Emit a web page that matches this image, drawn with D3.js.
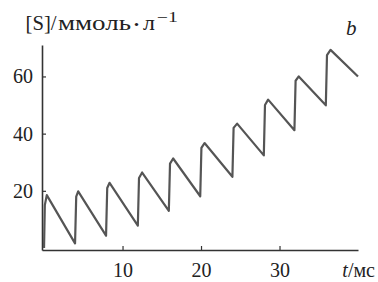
<!DOCTYPE html>
<meta charset="utf-8">
<script src="https://d3js.org/d3.v7.min.js"></script>
<style>
  body { margin: 0; background: #fff; }
</style>
<div id="my_dataviz"></div>
<script>

// time (ms) and substrate concentration [S] (mmol/l)
var tVals = [0, 0.1, 0.35, 3.95, 4.1, 4.35, 7.9, 8.05, 8.35, 11.95, 12.1, 12.5, 15.9, 16.05, 16.45, 19.9, 20.05, 20.45, 24.0, 24.15, 24.6, 28.0, 28.15, 28.55, 31.9, 32.05, 32.45, 35.9, 36.05, 36.5, 40.0];
var sVals = [0, 15, 18.5, 1.6, 18, 19.8, 4.3, 21, 22.8, 7.8, 24.5, 26.4, 13.0, 29.5, 31.3, 18.1, 35, 36.7, 24.9, 42, 43.5, 32.4, 50, 51.9, 41.2, 58.5, 60.0, 49.9, 67.5, 69.3, 60.0];

var xTicks = [10, 20, 30];
var yTicks = [20, 40, 60];

var W = 378, H = 282;
var serif = "'Liberation Serif', 'Times New Roman', serif";

var svg = d3.select("#my_dataviz")
  .append("svg")
    .attr("width", W)
    .attr("height", H);

var x = d3.scaleLinear()
  .domain([-0.26, 40])
  .range([42, 358]);

var y = d3.scaleLinear()
  .domain([-0.7, 71])
  .range([250, 45]);

// X axis
var gx = svg.append("g")
  .attr("transform", "translate(0," + y.range()[0] + ")")
  .call(d3.axisBottom(x).tickValues(xTicks).tickSizeInner(-4).tickSizeOuter(0).tickPadding(13));

// Y axis
var gy = svg.append("g")
  .attr("transform", "translate(" + x.range()[0] + ",0)")
  .call(d3.axisLeft(y).tickValues(yTicks).tickSizeInner(-4).tickSizeOuter(0).tickPadding(9));

[gx, gy].forEach(function(g) {
  g.select(".domain").attr("stroke", "#333").attr("stroke-width", 1.6);
  g.selectAll(".tick line").attr("stroke", "#333").attr("stroke-width", 1.2);
  g.selectAll(".tick text")
    .style("font-family", serif)
    .style("font-size", "20px")
    .attr("fill", "#222");
});

// sawtooth line
var line = d3.line()
  .x(function(d, i) { return x(tVals[i]); })
  .y(function(d) { return y(d); });

svg.append("path")
  .datum(sVals)
  .attr("fill", "none")
  .attr("stroke", "#555")
  .attr("stroke-width", 2.2)
  .attr("stroke-linejoin", "round")
  .attr("d", line);

// helper for label pieces
function label(txt, px, py, size, len) {
  var t = svg.append("text")
    .attr("x", px)
    .attr("y", py)
    .attr("fill", "#222")
    .style("font-family", serif)
    .style("font-size", size + "px")
    .text(txt);
  if (len) t.attr("textLength", len).attr("lengthAdjust", "spacingAndGlyphs");
  return t;
}

// y label  [S]/ммоль·л^-1
label("[S]/", 25.5, 29.5, 20, 31);
label("ммоль", 58, 29.5, 20, 73);
label("•", 134, 29, 12, 5);
label("л", 143, 29.5, 20, 12);
label("−1", 157, 22, 14, 21);

// panel letter
label("b", 346, 35, 21).style("font-style", "italic");

// x label
var xl = svg.append("text")
  .attr("x", 375)
  .attr("y", 277)
  .attr("text-anchor", "end")
  .attr("fill", "#222")
  .style("font-family", serif)
  .style("font-size", "20px");
xl.append("tspan").style("font-style", "italic").text("t");
xl.append("tspan").text("/мс");

</script>
